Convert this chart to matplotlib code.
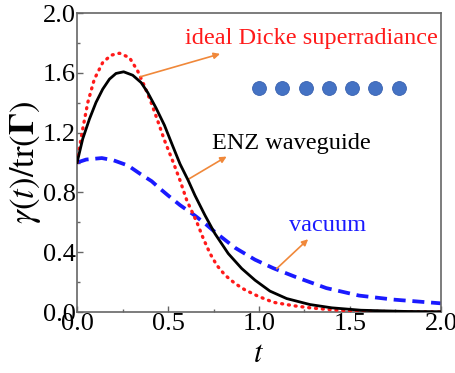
import matplotlib
matplotlib.use('Agg')
from matplotlib import pyplot as plt
from matplotlib.ticker import MultipleLocator, FormatStrFormatter

plt.rcParams['font.family'] = ['Liberation Serif', 'DejaVu Serif']
plt.rcParams['mathtext.fontset'] = 'stix'

# values
t_enz = [0, 0.031, 0.068, 0.104, 0.141, 0.178, 0.214, 0.256, 0.306, 0.352, 0.388, 0.434, 0.48, 0.526,
         0.566, 0.611, 0.648, 0.703, 0.758, 0.831, 0.905, 0.978, 1.06, 1.152, 1.28, 1.4, 1.56, 1.8, 2.0]
g_enz = [1.0, 1.158, 1.291, 1.402, 1.491, 1.558, 1.596, 1.607, 1.584, 1.535, 1.469, 1.365, 1.25, 1.11,
         0.99, 0.88, 0.78, 0.647, 0.524, 0.391, 0.291, 0.213, 0.14, 0.09, 0.05, 0.028, 0.012, 0.004, 0.002]

t_dicke = [0, 0.009, 0.031, 0.059, 0.095, 0.141, 0.187, 0.233, 0.288, 0.333, 0.37, 0.407, 0.443, 0.48,
           0.529, 0.566, 0.603, 0.658, 0.694, 0.731, 0.768, 0.813, 0.868, 0.923, 0.996, 1.079, 1.19,
           1.28, 1.4, 1.5, 1.75, 2.0]
g_dicke = [1.0, 1.069, 1.224, 1.402, 1.558, 1.669, 1.718, 1.731, 1.702, 1.613, 1.513, 1.402, 1.28, 1.15,
           1.0, 0.88, 0.747, 0.602, 0.491, 0.391, 0.313, 0.247, 0.191, 0.148, 0.105, 0.065, 0.042,
           0.028, 0.015, 0.008, 0.002, 0.0]

t_vac = [0, 0.05, 0.136, 0.2, 0.28, 0.346, 0.41, 0.456, 0.5, 0.566, 0.648, 0.71, 0.758, 0.868, 0.978,
         1.079, 1.2, 1.37, 1.55, 1.74, 2.0]
g_vac = [1.0, 1.02, 1.03, 1.015, 0.98, 0.925, 0.875, 0.825, 0.78, 0.715, 0.645, 0.585, 0.535, 0.43, 0.35,
         0.293, 0.235, 0.16, 0.11, 0.083, 0.058]

atoms_t = [1.0, 1.128, 1.256, 1.384, 1.512, 1.64, 1.768]
atoms_g = [1.5] * 7

labels = ['ideal Dicke superradiance', 'ENZ waveguide', 'vacuum']

fig = plt.figure(figsize=(4.56, 3.73), dpi=100)
ax = fig.add_axes([0.169, 0.1635, 0.798, 0.8015])

ax.plot(t_dicke, g_dicke, color='#ff1a1a', lw=2.4, linestyle=(0, (0.3, 1.75)),
        dash_capstyle='round', zorder=3)
ax.plot(t_enz, g_enz, color='black', lw=2.0, zorder=4)
ax.plot(t_vac, g_vac, color='#1a1aff', lw=2.7, linestyle=(0, (3.2, 1.8)), zorder=2)
ax.plot(atoms_t, atoms_g, 'o', color='#4472c4', ms=10, markeredgecolor='#3a62b0',
        markeredgewidth=0.6, linestyle='none')

orange = '#f0883a'
arw = dict(arrowstyle='-|>', color=orange, lw=1.2, mutation_scale=9, shrinkA=0, shrinkB=0)
ax.annotate('', xy=(0.786, 1.727), xytext=(0.346, 1.573), arrowprops=arw)
ax.annotate('', xy=(0.822, 1.04), xytext=(0.61, 0.887), arrowprops=arw)
ax.annotate('', xy=(1.27, 0.487), xytext=(1.097, 0.29), arrowprops=arw)

ax.text(1.29, 1.833, labels[0], color='#ff1a1a', fontsize=17.5, ha='center', va='center')
ax.text(1.18, 1.127, labels[1], color='black', fontsize=17.5, ha='center', va='center')
ax.text(1.376, 0.58, labels[2], color='#1a1aff', fontsize=17.5, ha='center', va='center')

ax.set_xlim(0, 2.0)
ax.set_ylim(0, 2.0)
ax.xaxis.set_major_locator(MultipleLocator(0.5))
ax.xaxis.set_minor_locator(MultipleLocator(0.25))
ax.yaxis.set_major_locator(MultipleLocator(0.4))
ax.yaxis.set_minor_locator(MultipleLocator(0.2))
ax.xaxis.set_major_formatter(FormatStrFormatter('%.1f'))
ax.yaxis.set_major_formatter(FormatStrFormatter('%.1f'))
ax.tick_params(which='both', direction='in', color='#666666', labelsize=19, pad=1)
ax.tick_params(which='major', length=4, width=1)
ax.tick_params(which='minor', length=2.5, width=1)
for s in ax.spines.values():
    s.set_color('#666666')
    s.set_linewidth(1.2)

ax.set_xlabel(r'$t$', fontsize=22, labelpad=3)
ax.set_ylabel(r'$\gamma(t)/\mathrm{tr}(\mathbf{\Gamma})$', fontsize=25, labelpad=0)

fig.savefig('out.png', dpi=100)
